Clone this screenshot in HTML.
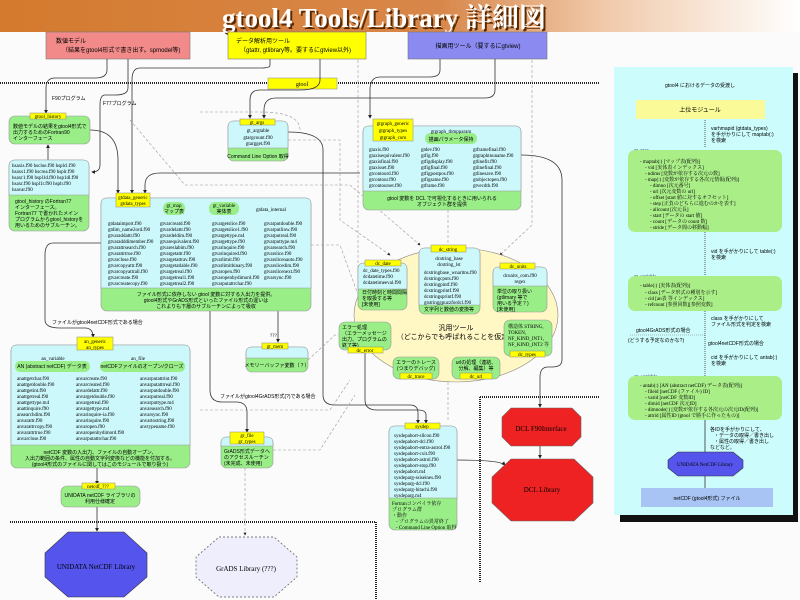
<!DOCTYPE html>
<html><head><meta charset="utf-8"><style>
html,body{margin:0;padding:0;background:#fff}
svg{display:block}
text{font-family:"Liberation Serif","Noto Serif CJK SC",serif;fill:#000}
.s{font-size:5px}
.m{font-size:6px}
.j{font-family:"Liberation Sans","Noto Sans CJK JP",sans-serif}
.lab{fill:#ffff00;stroke:#888;stroke-width:.5}
.cy{fill:#ccf8fc;stroke:#999;stroke-width:.6}
.gr{fill:#99ee88;stroke:#999;stroke-width:.6}
.ln{fill:none;stroke:#333;stroke-width:.8}
.dl{fill:none;stroke:#999;stroke-width:.6;stroke-dasharray:3,2}
.hd{stroke:#222;stroke-width:2;stroke-dasharray:1,1;fill:none}
</style></head><body>
<svg width="800" height="600" viewBox="0 0 800 600" xmlns="http://www.w3.org/2000/svg">
<defs>
<linearGradient id="tg" x1="0" x2="1" y1="0" y2="0">
<stop offset="0" stop-color="#d47a2e"/><stop offset=".55" stop-color="#d8874a"/><stop offset=".75" stop-color="#f0c8a8"/><stop offset="1" stop-color="#fff"/></linearGradient>
<marker id="ar" markerWidth="5" markerHeight="5" refX="4" refY="2.5" orient="auto"><path d="M0,0L5,2.5L0,5z" fill="#222"/></marker>
</defs>
<rect width="800" height="600" fill="#fbfbfb"/>
<rect x="0" y="0" width="800" height="32" fill="url(#tg)"/>
<text x="384" y="27" text-anchor="middle" style="font-size:27px;font-weight:bold;fill:#5a2a00" transform="translate(2,2)">gtool4 Tools/Library 詳細図</text>
<text x="384" y="27" text-anchor="middle" style="font-size:27px;font-weight:bold;fill:#fff">gtool4 Tools/Library 詳細図</text>

<rect x="46" y="32" width="144" height="27" fill="#f28a8a" stroke="#777" stroke-width=".6"/>
<text x="56" y="43" class="m j">数値モデル</text><text x="62" y="52" class="m j">（結果をgtool4形式で書き出す。spmodel等)</text>
<rect x="228" y="32" width="138" height="27" fill="#ffff00" stroke="#777" stroke-width=".6"/>
<text x="236" y="43" class="m j">データ解析用ツール</text><text x="240" y="52" class="m j">（gtattr, gtlibrary等。要するにgtview以外)</text>
<rect x="408" y="32" width="139" height="27" fill="#8a8af0" stroke="#777" stroke-width=".6"/>
<text x="478" y="48" text-anchor="middle" class="m j">描画用ツール（要するにgtview)</text>

<line x1="0" y1="83" x2="600" y2="83" class="hd"/>
<rect x="268" y="78" width="69" height="11" class="lab"/><text x="302" y="86" text-anchor="middle" class="m">gtool</text>
<line x1="358" y1="60" x2="358" y2="300" class="dl"/>
<line x1="532" y1="60" x2="532" y2="120" class="dl"/>

<path d="M107,59 V70 Q107,78 95,78 H55 Q46,78 46,88 V113" class="ln" marker-end="url(#ar)"/>
<path d="M128,59 V88 Q128,95 115,95 H105 Q100,95 100,105 V165 Q100,172 92,172" class="ln" marker-end="url(#ar)"/>
<path d="M270,59 V65 Q270,68 262,68 H140 Q132,68 132,80 V193" class="ln" marker-end="url(#ar)"/>
<path d="M320,59 V80 Q320,90 300,90 H260 Q250,90 250,100 V118" class="ln" marker-end="url(#ar)"/>
<path d="M440,59 V70 Q440,77 430,77 H380 Q370,77 370,90 V118" class="ln" marker-end="url(#ar)"/>
<path d="M495,59 V90 Q495,98 485,98 H276 Q264,98 264,110 V118" class="ln" marker-end="url(#ar)"/>
<path d="M90,130 Q118,130 118,160 V193" class="ln" marker-end="url(#ar)"/>
<path d="M360,173 H160 Q145,173 145,185 V193" class="ln" marker-end="url(#ar)"/>
<line x1="48" y1="160" x2="48" y2="145" class="ln" marker-end="url(#ar)"/>
<path d="M288,132 Q323,132 323,150 V395 Q323,405 335,405 H410 Q418,405 418,413 V423" class="ln" marker-end="url(#ar)"/>
<path d="M101,243 H53 Q45,243 45,255 V320 Q45,328 60,328 H85 Q93,328 93,337" class="ln" marker-end="url(#ar)"/>
<path d="M210,311 V390 Q210,402 222,402 H236 Q247,402 247,412 V432" class="ln" marker-end="url(#ar)"/>
<line x1="278" y1="311" x2="278" y2="342" class="ln" marker-end="url(#ar)"/>
<path d="M365,353 V400 Q365,410 377,410 H418 Q426,410 426,415 V423" class="ln" marker-end="url(#ar)"/>
<line x1="97" y1="468" x2="97" y2="484" class="ln" marker-end="url(#ar)"/>
<line x1="97" y1="507" x2="97" y2="531" class="ln" marker-end="url(#ar)"/>
<line x1="245" y1="468" x2="245" y2="535" class="dl" marker-end="url(#ar)"/>
<path d="M521,155 Q562,155 562,180 V360 Q562,367 552,367 H548 Q540,367 540,377 V407" class="ln" marker-end="url(#ar)"/>
<path d="M456,460 Q500,460 505,465" class="ln" marker-end="url(#ar)"/>
<line x1="540" y1="445" x2="540" y2="458" class="ln" marker-end="url(#ar)"/>
<path d="M200,112 L260,112 Q300,112 300,130" class="dl"/>
<path d="M130,120 L185,185 H350 L420,245" class="dl" marker-end="url(#ar)"/>
<path d="M288,140 H340 V220 L390,255" class="dl" marker-end="url(#ar)"/>
<path d="M311,245 H340 L360,300" class="dl" marker-end="url(#ar)"/>
<path d="M308,360 L335,335 H345" class="dl"/>
<path d="M273,450 H320 L355,395" class="dl"/>
<path d="M200,410 H330 L350,380" class="dl"/>
<line x1="448" y1="210" x2="448" y2="250" class="dl" marker-end="url(#ar)"/>
<path d="M532,120 V225 L500,255" class="dl" marker-end="url(#ar)"/>
<line x1="448" y1="382" x2="448" y2="420" class="dl"/>
<text x="52" y="100" class="s j">F90プログラム</text>
<text x="103" y="105" class="s j">F77プログラム</text>
<text x="52" y="324" class="s j">ファイルがgtool4netCDF形式である場合</text>
<text x="220" y="398" class="s j">ファイルがgtool4GrADS形式(?)である場合</text>
<text x="270" y="337" class="s">???</text>

<line x1="480" y1="397" x2="600" y2="397" class="hd"/>
<line x1="480" y1="397" x2="480" y2="582" class="hd"/>
<line x1="300" y1="522" x2="376" y2="522" class="hd"/>
<line x1="376" y1="522" x2="376" y2="600" class="hd"/>
<line x1="10" y1="522" x2="320" y2="522" class="hd"/>

<rect x="9" y="116" width="81" height="28" rx="6" class="gr"/>
<rect x="30" y="113" width="36" height="6" class="lab"/><text x="48" y="118" text-anchor="middle" class="s">gtool_history</text>
<text x="13" y="128" class="s j">数値モデルの結果をgtool4形式で</text><text x="13" y="134" class="s j">出力するためのFortran90</text><text x="13" y="140" class="s j">インターフェース</text>
<rect x="9" y="160" width="80" height="71" rx="6" class="gr"/>
<path d="M9,166 Q9,160 15,160 H83 Q89,160 89,166 V195 H9 Z" class="cy"/>
<text x="12" y="167" class="s">hsaxis.f90  hscloe.f90  hsplcl.f90</text>
<text x="12" y="173" class="s">hsaxs1.f90  hscrea.f90  hsplr.f90</text>
<text x="12" y="179" class="s">hsaxr1.f90  hspl1d.f90  hsp1dl.f90</text>
<text x="12" y="185" class="s">hsaxr.f90   hspl1r.f90  hsplr.f90</text>
<text x="12" y="191" class="s">hsavar.f90</text>
<text x="15" y="203" class="s j">gtool_history のFortran77</text><text x="15" y="209" class="s j">インターフェース。</text><text x="15" y="215" class="s j">Fortran77 で書かれたメイン</text><text x="15" y="221" class="s j">プログラムからgtool_historyを</text><text x="15" y="227" class="s j">用いるためのサブルーチン。</text>

<rect x="228" y="121" width="60" height="40" rx="6" class="gr"/>
<path d="M228,127 Q228,121 234,121 H282 Q288,121 288,127 V148 H228 Z" class="cy"/>
<rect x="240" y="119" width="35" height="6" class="lab"/><text x="257" y="124" text-anchor="middle" class="s">gt_args</text>
<text x="258" y="132" text-anchor="middle" class="s">gt_argtable</text><text x="258" y="139" text-anchor="middle" class="s">gtargcount.f90</text><text x="258" y="145" text-anchor="middle" class="s">gtargget.f90</text>
<text x="258" y="158" text-anchor="middle" class="s j">Command Line Option 取得</text>

<rect x="101" y="198" width="210" height="113" rx="6" class="gr"/>
<path d="M101,204 Q101,198 107,198 H305 Q311,198 311,204 V288 H101 Z" class="cy"/>
<rect x="116" y="193" width="34" height="14" class="lab"/><text x="133" y="199" text-anchor="middle" class="s">gtdata_generic</text><text x="133" y="205" text-anchor="middle" class="s">gtdata_types</text>
<rect x="163" y="202" width="22" height="13" rx="6" fill="#99ee88"/><text x="174" y="207" text-anchor="middle" class="s">gt_map</text><text x="174" y="213" text-anchor="middle" class="s j">マップ表</text>
<rect x="209" y="202" width="30" height="13" rx="6" fill="#99ee88"/><text x="224" y="207" text-anchor="middle" class="s">gt_variable</text><text x="224" y="213" text-anchor="middle" class="s j">実体表</text>
<text x="256" y="211" class="s">gtdata_internal</text>
<g class="s">
<text x="108" y="225">gtdataimport.f90</text><text x="108" y="231">gtdim_name2ord.f90</text><text x="108" y="237">gtvaraddattr.f90</text><text x="108" y="243">gtvaradddimember.f90</text><text x="108" y="249">gtvarattrsearch.f90</text><text x="108" y="255">gtvarattrtrue.f90</text><text x="108" y="261">gtvarclose.f90</text><text x="108" y="267">gtvarcopyattr.f90</text><text x="108" y="273">gtvarcopyattrall.f90</text><text x="108" y="279">gtvarcreate.f90</text><text x="108" y="285">gtvarcreatecopy.f90</text>
<text x="160" y="225">gtvarcreatd.f90</text><text x="160" y="231">gtvardelattr.f90</text><text x="160" y="237">gtvardeldim.f90</text><text x="160" y="243">gtvarequivalent.f90</text><text x="160" y="249">gtvareslabim.f90</text><text x="160" y="255">gtvargetattr.f90</text><text x="160" y="261">gtvargetattrav.f90</text><text x="160" y="267">gtvargetatlable.f90</text><text x="160" y="273">gtvargetreal.f90</text><text x="160" y="279">gtvargetreal1.f90</text><text x="160" y="285">gtvargetreal2.f90</text>
<text x="212" y="225">gtvargetslice.f90</text><text x="212" y="231">gtvargetslice1.f90</text><text x="212" y="237">gtvargettype.m4</text><text x="212" y="243">gtvargettype.f90</text><text x="212" y="249">gtvarinquire.f90</text><text x="212" y="255">gtvarinquired.f90</text><text x="212" y="261">gtvarlimit.f90</text><text x="212" y="267">gtvarlimitbinary.f90</text><text x="212" y="273">gtvaropen.f90</text><text x="212" y="279">gtvaropenbydimord.f90</text><text x="212" y="285">gtvarputattrchar.f90</text>
<text x="264" y="225">gtvarputdouble.f90</text><text x="264" y="231">gtvarputlinw.f90</text><text x="264" y="237">gtvarputreal.f90</text><text x="264" y="243">gtvarputtype.m4</text><text x="264" y="249">gtvarsearch.f90</text><text x="264" y="255">gtvarslice.f90</text><text x="264" y="261">gtvarslicenauto.f90</text><text x="264" y="267">gtvarslicedim.f90</text><text x="264" y="273">gtvarslicenext.f90</text><text x="264" y="279">gtvarsync.f90</text>
</g>
<text x="206" y="296" text-anchor="middle" class="s j">ファイル形式に依存しない gtool 変数に対する入出力を提供。</text>
<text x="206" y="302" text-anchor="middle" class="s j">gtool4形式やGrADS形式といったファイル形式の違いは</text>
<text x="206" y="308" text-anchor="middle" class="s j">これよりも下層のサブルーチンによって吸収</text>

<rect x="363" y="126" width="158" height="84" rx="6" class="gr"/>
<path d="M363,132 Q363,126 369,126 H515 Q521,126 521,132 V191 H363 Z" class="cy"/>
<rect x="373" y="119" width="40" height="22" class="lab"/><text x="393" y="125" text-anchor="middle" class="s">gtgraph_generic</text><text x="393" y="132" text-anchor="middle" class="s">gtgraph_types</text><text x="393" y="139" text-anchor="middle" class="s">gtgraph_com</text>
<rect x="425" y="133" width="52" height="11" rx="5" fill="#99ee88"/><text x="451" y="133" text-anchor="middle" class="s">gtgraph_tbmpparam</text><text x="451" y="141" text-anchor="middle" class="s j">描画パラメータ保持</text>
<g class="s">
<text x="369" y="151">gtaxis.f90</text><text x="369" y="157">gtaxisequivalent.f90</text><text x="369" y="163">gtaxisfinal.f90</text><text x="369" y="169">gtaxisset.f90</text><text x="369" y="175">gtcontourd.f90</text><text x="369" y="181">gtcontour.f90</text><text x="369" y="187">gtcontourset.f90</text>
<text x="421" y="151">gtdev.f90</text><text x="421" y="157">gtfig.f90</text><text x="421" y="163">gtfigdisplay.f90</text><text x="421" y="169">gtfigfinal.f90</text><text x="421" y="175">gtfigpostpos.f90</text><text x="421" y="181">gtfigsame.f90</text><text x="421" y="187">gtframe.f90</text>
<text x="473" y="151">gtframefinal.f90</text><text x="473" y="157">gtgraphtnuname.f90</text><text x="473" y="163">gtlinefit.f90</text><text x="473" y="169">gtlinefinal.f90</text><text x="473" y="175">gtlinesave.f90</text><text x="473" y="181">gtobjectopen.f90</text><text x="473" y="187">gtvecdth.f90</text>
</g>
<text x="442" y="200" text-anchor="middle" class="s j">gtool 変数を DCL で可視化するときに用いられる</text><text x="442" y="206" text-anchor="middle" class="s j">オブジェクト群を提供</text>

<ellipse cx="456" cy="315" rx="102" ry="67" fill="#fff7c4" stroke="#888" stroke-width=".6"/>
<text x="456" y="330" text-anchor="middle" class="m j" style="font-size:7px">汎用ツール</text>
<text x="456" y="339" text-anchor="middle" class="m j" style="font-size:7px">（どこからでも呼ばれることを仮定）</text>
<rect x="419" y="248" width="61" height="66" rx="6" class="gr"/>
<path d="M419,254 Q419,248 425,248 H474 Q480,248 480,254 V305 H419 Z" class="cy"/>
<rect x="431" y="245" width="35" height="7" class="lab"/><text x="448" y="251" text-anchor="middle" class="s">dc_string</text>
<g class="s"><text x="449" y="260" text-anchor="middle">dcstring_base</text><text x="449" y="266" text-anchor="middle">dcstring_lst</text><text x="424" y="274">dcstringbase_wnaritns.f90</text><text x="424" y="280">dcstringcputs.f90</text><text x="424" y="286">dcstringpintf.f90</text><text x="424" y="292">dcstringprintf.f90</text><text x="424" y="298">dcstringsprintf.f90</text><text x="424" y="304">gtstringgpuzzfordcl.f90</text></g>
<text x="449" y="311" text-anchor="middle" class="s j">文字列と数値の変換等</text>
<rect x="358" y="263" width="49" height="47" rx="6" class="gr"/>
<path d="M358,269 Q358,263 364,263 H401 Q407,263 407,269 V289 H358 Z" class="cy"/>
<rect x="365" y="260" width="36" height="6" class="lab"/><text x="383" y="265" text-anchor="middle" class="s">dc_date</text>
<g class="s"><text x="363" y="272">dc_date_types.f90</text><text x="363" y="278">dcdatetime.f90</text><text x="363" y="284">dcdatetimeeval.f90</text></g>
<text x="362" y="294" class="s j">日付時刻と時間間隔</text><text x="362" y="300" class="s j">を取扱する等</text><text x="362" y="306" class="s j">[未使用]</text>
<rect x="493" y="267" width="54" height="45" rx="6" class="gr"/>
<path d="M493,273 Q493,267 499,267 H541 Q547,267 547,273 V286 H493 Z" class="cy"/>
<rect x="500" y="263" width="35" height="6" class="lab"/><text x="518" y="268" text-anchor="middle" class="s">dc_units</text>
<text x="520" y="277" text-anchor="middle" class="s">dcunits_com.f90</text><text x="520" y="283" text-anchor="middle" class="s">regex</text>
<text x="497" y="293" class="s j">単位の取り扱い</text><text x="497" y="299" class="s j">(gtlimary 等で</text><text x="497" y="305" class="s j">用いる予定？)</text><text x="497" y="311" class="s j">[未使用]</text>
<rect x="339" y="322" width="52" height="28" rx="6" class="gr"/>
<text x="342" y="329" class="s j">エラー処理</text><text x="342" y="335" class="s j">（エラーメッセージ</text><text x="342" y="341" class="s j">出力、プログラムの</text><text x="342" y="347" class="s j">終了等)</text>
<rect x="348" y="347" width="35" height="6" class="lab"/><text x="365" y="352" text-anchor="middle" class="s">dc_error</text>
<rect x="504" y="320" width="48" height="36" rx="6" class="gr"/>
<text x="508" y="328" class="s">構造体 STRING,</text><text x="508" y="334" class="s">TOKEN,</text><text x="508" y="340" class="s">NF_KIND_INT1,</text><text x="508" y="346" class="s">NF_KIND_INT2 等</text>
<rect x="510" y="351" width="35" height="6" class="lab"/><text x="527" y="356" text-anchor="middle" class="s">dc_types</text>
<rect x="393" y="357" width="46" height="22" rx="6" class="gr"/>
<text x="416" y="364" text-anchor="middle" class="s j">エラーのトレース</text><text x="416" y="370" text-anchor="middle" class="s j">(つまりデバッグ)</text>
<rect x="400" y="373" width="32" height="6" class="lab"/><text x="416" y="378" text-anchor="middle" class="s">dc_trace</text>
<rect x="452" y="357" width="48" height="22" rx="6" class="gr"/>
<text x="476" y="364" text-anchor="middle" class="s j">urlの処理（連結、</text><text x="476" y="370" text-anchor="middle" class="s j">分解、編集）等</text>
<rect x="460" y="373" width="32" height="6" class="lab"/><text x="476" y="378" text-anchor="middle" class="s">dc_url</text>

<rect x="389" y="426" width="68" height="104" rx="6" class="gr"/>
<path d="M389,432 Q389,426 395,426 H451 Q457,426 457,432 V498 H389 Z" class="cy"/>
<rect x="405" y="423" width="35" height="6" class="lab"/><text x="422" y="428" text-anchor="middle" class="s">sysdep</text>
<g class="s"><text x="394" y="437">sysdepabort-sllcon.f90</text><text x="394" y="443">sysdepabort-dcl.f90</text><text x="394" y="449">sysdepabort-entra-astrol.f90</text><text x="394" y="455">sysdepabort-cxit.f90</text><text x="394" y="461">sysdepabort-astrol.f90</text><text x="394" y="467">sysdepabort-stop.f90</text><text x="394" y="473">sysdepabort.m4</text><text x="394" y="479">sysdeparg-ssiseines.f90</text><text x="394" y="485">sysdeparg-dcl.f90</text><text x="394" y="491">sysdeparg-hitachi.f90</text><text x="394" y="497">sysdeparg.m4</text></g>
<g class="s j"><text x="392" y="505">Fortranコンパイラ依存</text><text x="392" y="511">プログラム群</text><text x="392" y="517">・動作</text><text x="396" y="523">- プログラムの異常終了</text><text x="396" y="529">- Command Line Option 取得</text></g>

<polygon points="511,408 572,408 581,417 581,437 572,446 511,446 502,437 502,417" fill="#ee2222" stroke="#666" stroke-width=".6"/>
<text x="541" y="431" text-anchor="middle" class="m" style="font-size:7px">DCL F90Interface</text>
<polygon points="511,459 574,459 593,477 593,503 574,521 511,521 492,503 492,477" fill="#ee2222" stroke="#666" stroke-width=".6"/>
<text x="542" y="492" text-anchor="middle" class="m" style="font-size:7px">DCL Library</text>

<rect x="11" y="345" width="179" height="123" rx="6" class="gr"/>
<path d="M11,351 Q11,345 17,345 H184 Q190,345 190,351 V445 H11 Z" class="cy"/>
<rect x="77" y="337" width="36" height="13" class="lab"/><text x="95" y="343" text-anchor="middle" class="s">an_generic</text><text x="95" y="349" text-anchor="middle" class="s">an_types</text>
<text x="53" y="360" text-anchor="middle" class="s">an_variable</text><rect x="15" y="361" width="75" height="11" rx="5" fill="#99ee88"/><text x="52" y="368" text-anchor="middle" class="s j">AN (abstract netCDF) データ表</text>
<text x="138" y="360" text-anchor="middle" class="s">an_file</text><rect x="100" y="361" width="85" height="11" rx="5" fill="#99ee88"/><text x="142" y="368" text-anchor="middle" class="s j">netCDFファイルのオープン/クローズ</text>
<g class="s">
<text x="17" y="380">anattgetchar.f90</text><text x="17" y="386">anattgetdouble.f90</text><text x="17" y="392">anattgetint.f90</text><text x="17" y="398">anattgetreal.f90</text><text x="17" y="404">anattgettype.m4</text><text x="17" y="410">anattinquire.f90</text><text x="17" y="416">ansearchdim.f90</text><text x="17" y="422">anvarattr.f90</text><text x="17" y="428">anvarattrcopy.f90</text><text x="17" y="434">anvarattrtrue.f90</text><text x="17" y="440">anvarclose.f90</text>
<text x="76" y="380">anvarcreate.f90</text><text x="76" y="386">anvarcreated.f90</text><text x="76" y="392">anvardelattr.f90</text><text x="76" y="398">anvargetdouble.f90</text><text x="76" y="404">anvargetreal.f90</text><text x="76" y="410">anvargettype.m4</text><text x="76" y="416">anvarinquire-ia.f90</text><text x="76" y="422">anvarinquire.f90</text><text x="76" y="428">anvaropen.f90</text><text x="76" y="434">anvaropenbydimord.f90</text><text x="76" y="440">anvarputattrchar.f90</text>
<text x="140" y="380">anvarputattrint.f90</text><text x="140" y="386">anvarputattrreal.f90</text><text x="140" y="392">anvarputdouble.f90</text><text x="140" y="398">anvarputreal.f90</text><text x="140" y="404">anvarputtype.m4</text><text x="140" y="410">anvarsearch.f90</text><text x="140" y="416">anvarsync.f90</text><text x="140" y="422">anvartostring.f90</text><text x="140" y="428">anvtypename.f90</text>
</g>
<text x="100" y="454" text-anchor="middle" class="s j">netCDF 変数の入出力、ファイルの自動オープン、</text><text x="100" y="460" text-anchor="middle" class="s j">入出力範囲の条件、属性の自動文字列変換などの機能を付加する。</text><text x="100" y="466" text-anchor="middle" class="s j">(gtool4形式のファイルに関してはこのモジュールで取り扱う)</text>

<rect x="246" y="347" width="62" height="25" rx="6" class="gr"/>
<path d="M246,353 Q246,347 252,347 H302 Q308,347 308,353 V358 H246 Z" class="cy"/>
<rect x="262" y="343" width="26" height="6" class="lab"/><text x="275" y="348" text-anchor="middle" class="s">gt_mem</text>
<text x="277" y="367" text-anchor="middle" class="s j">メモリーバッファ変数（？）</text>

<rect x="221" y="437" width="52" height="31" rx="6" class="gr"/>
<path d="M221,443 Q221,437 227,437 H267 Q273,437 273,443 V446 H221 Z" class="cy"/>
<rect x="230" y="432" width="34" height="12" class="lab"/><text x="247" y="437" text-anchor="middle" class="s">gr_file</text><text x="247" y="443" text-anchor="middle" class="s">gr_types</text>
<text x="224" y="453" class="s j">GrADS形式データへ</text><text x="224" y="459" class="s j">のアクセスルーチン</text><text x="224" y="465" class="s j">(未完成、未使用)</text>

<rect x="61" y="486" width="79" height="21" rx="6" class="gr"/>
<rect x="82" y="483" width="33" height="6" class="lab"/><text x="98" y="488" text-anchor="middle" class="s">netcdf_???</text>
<text x="100" y="497" text-anchor="middle" class="s j">UNIDATA netCDF ライブラリの</text><text x="100" y="503" text-anchor="middle" class="s j">利用仕様確定</text>

<polygon points="68,532 124,532 147,553 147,577 124,597 68,597 45,577 45,553" fill="#5555ee" stroke="#333" stroke-width=".6"/>
<text x="96" y="569" text-anchor="middle" class="m" style="font-size:7px">UNIDATA NetCDF Library</text>
<polygon points="219,537 274,537 297,557 297,577 274,597 219,597 196,577 196,557" fill="#eeeefc" stroke="#555" stroke-width=".7" stroke-dasharray="2,2"/>
<text x="246" y="571" text-anchor="middle" class="m" style="font-size:7px">GrADS Library (???)</text>

<rect x="620" y="73" width="178" height="449" fill="#111"/>
<rect x="614" y="67" width="179" height="448" fill="#ccfcfc"/>
<text x="700" y="87" text-anchor="middle" class="s j">gtool4 におけるデータの受渡し</text>
<rect x="636" y="100" width="129" height="19" fill="#fafa98"/>
<text x="700" y="112" text-anchor="middle" class="m j">上位モジュール</text>
<line x1="705" y1="120" x2="705" y2="148" stroke="#333" stroke-width=".8" stroke-dasharray="1,1"/>
<text x="711" y="130" class="s j">varhmapid (gtdata_types)</text><text x="711" y="136" class="s j">を手がかりにして maptab(:)</text><text x="711" y="142" class="s j">を検索</text>
<text x="634" y="152" class="s">gt_map</text>
<rect x="628" y="150" width="154" height="82" rx="7" fill="#aaee88"/>
<g class="s j"><text x="640" y="163">- maptab(:) [マップ表(配列)]</text><text x="645" y="169">- vid         [実体表インデックス]</text><text x="645" y="175">- ndims      [変数が依存する次元の数]</text><text x="645" y="181">- map(:)      [変数が依存する各次元情報(配列)]</text><text x="650" y="187">- dimno    [次元番号]</text><text x="650" y="193">- url        [次元変数の url]</text><text x="650" y="199">- offset    [start 値に対するオフセット]</text><text x="650" y="205">- step      [正負のどちらに進むのかを表す]</text><text x="650" y="211">- allcount [次元長]</text><text x="650" y="217">- start     [データの start 値]</text><text x="650" y="223">- count     [データの count 数]</text><text x="650" y="229">- stride    [データ間の移動幅]</text></g>
<line x1="705" y1="232" x2="705" y2="276" stroke="#333" stroke-width=".8" stroke-dasharray="1,1"/>
<text x="711" y="253" class="s j">vid を手がかりにして table(:)</text><text x="711" y="259" class="s j">を検索</text>
<text x="634" y="278" class="s">gt_variable</text>
<rect x="628" y="276" width="154" height="35" rx="7" fill="#aaee88"/>
<g class="s j"><text x="640" y="287">- table(:)  [実体表(配列)]</text><text x="645" y="294">- class      [データ形式の種別を示す]</text><text x="645" y="300">- cid         [an表 等インデックス]</text><text x="645" y="306">- refcount  [参照回数][参照変数]</text></g>
<line x1="705" y1="311" x2="705" y2="376" stroke="#333" stroke-width=".8" stroke-dasharray="1,1"/>
<text x="711" y="320" class="s j">class を手がかりにして</text><text x="711" y="326" class="s j">ファイル形式を判定を検索</text>
<line x1="630" y1="335" x2="705" y2="335" stroke="#777" stroke-width=".6" stroke-dasharray="1,1"/>
<text x="636" y="332" class="s j">gtool4GrADS形式の場合</text><text x="628" y="342" class="s j">(どうする予定なのかな?)</text>
<text x="708" y="345" class="s j">gtool4netCDF形式の場合</text>
<text x="711" y="359" class="s j">cid を手がかりにして antab(:)</text><text x="711" y="365" class="s j">を検索</text>
<text x="634" y="378" class="s">an_variable</text>
<rect x="628" y="376" width="154" height="44" rx="7" fill="#aaee88"/>
<g class="s j"><text x="640" y="387">- antab(:) [AN (abstract netCDF) データ表(配列)]</text><text x="645" y="393">- fileid     [netCDF (ファイル) ID]</text><text x="645" y="399">- varid      [netCDF 変数ID]</text><text x="645" y="405">- dimid      [netCDF 次元ID]</text><text x="645" y="411">- dimnode(:) [変数が依存する各次元の次元ID(配列)]</text><text x="645" y="417">- attrid     [属性ID (gtool で勝手に作ったもの)]</text></g>
<line x1="705" y1="420" x2="705" y2="452" stroke="#333" stroke-width=".8"/>
<text x="710" y="431" class="s j">各IDを手がかりにして、</text><text x="714" y="437" class="s j">・データの取得／書き出し</text><text x="714" y="443" class="s j">・属性の取得／書き出し</text><text x="710" y="449" class="s j">などなど。</text>
<polygon points="678,452 733,452 743,460 743,468 733,476 678,476 668,468 668,460" fill="#5555ee" stroke="#333" stroke-width=".6"/>
<text x="705" y="466" text-anchor="middle" class="s">UNIDATA NetCDF Library</text>
<line x1="705" y1="476" x2="705" y2="488" stroke="#333" stroke-width=".8"/>
<rect x="641" y="488" width="132" height="19" fill="#a8c4f4"/>
<text x="707" y="500" text-anchor="middle" class="s j">netCDF (gtool4形式) ファイル</text>
</svg>
</body></html>
